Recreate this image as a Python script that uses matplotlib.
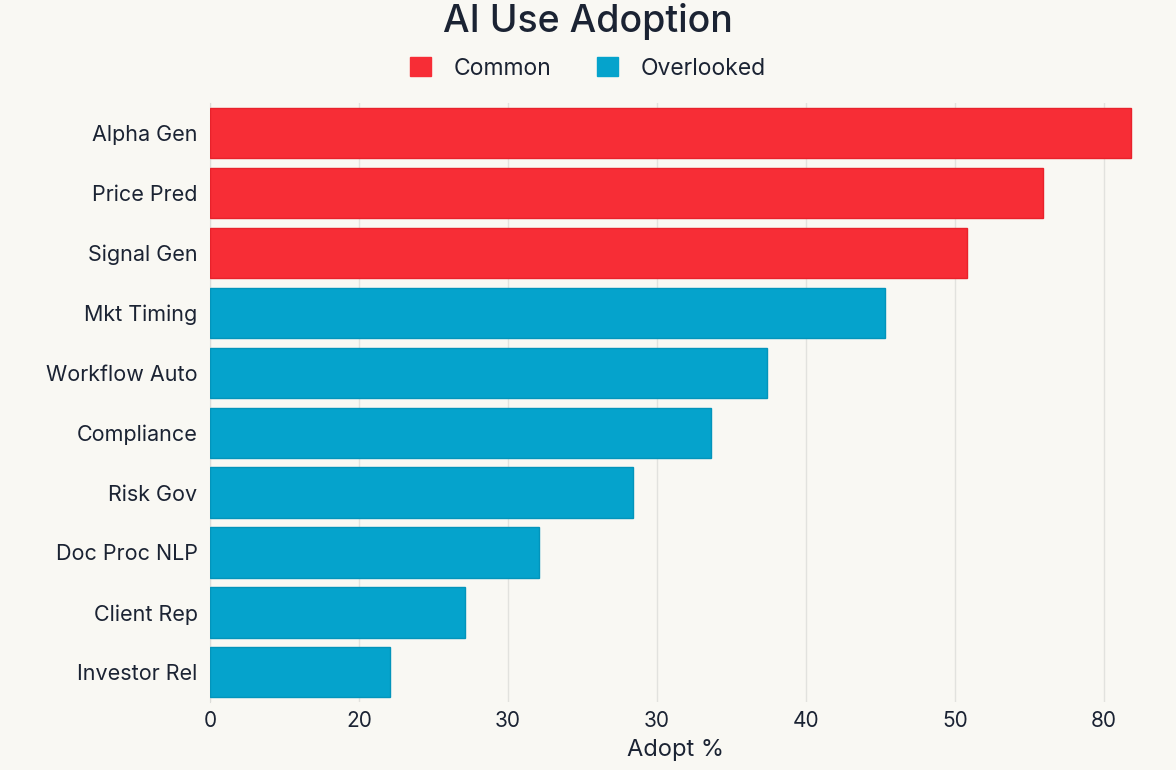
import matplotlib.pyplot as plt
from matplotlib.patches import Patch

# Data
categories = ["Alpha Gen", "Price Pred", "Signal Gen", "Mkt Timing", "Workflow Auto",
              "Compliance", "Risk Gov", "Doc Proc NLP", "Client Rep", "Investor Rel"]
values = [61.8, 55.9, 50.8, 45.3, 37.4, 33.6, 28.4, 22.1, 17.1, 12.1]
groups = ["Common", "Common", "Common", "Overlooked", "Overlooked",
          "Overlooked", "Overlooked", "Overlooked", "Overlooked", "Overlooked"]
tick_pos = [0, 10, 20, 30, 40, 50, 60]
tick_labels = ["0", "20", "30", "30", "40", "50", "80"]

colors = {"Common": "#f72d36", "Overlooked": "#05a3cc"}
edges = {"Common": "#e8222b", "Overlooked": "#0394bb"}
bg = "#f9f8f3"
text_col = "#1b2333"

plt.rcParams['font.family'] = ['Inter', 'DejaVu Sans']

fig = plt.figure(figsize=(11.76, 7.7), dpi=100, facecolor=bg)
ax = fig.add_axes([0.1786, 0.088, 0.792, 0.778], facecolor=bg)

y = list(range(len(categories)))
ax.barh(y, values, height=0.84,
        color=[colors[g] for g in groups],
        edgecolor=[edges[g] for g in groups], linewidth=1, zorder=3)

ax.set_ylim(len(categories) - 0.5, -0.5)
ax.set_xlim(0, 62.5)
ax.set_yticks(y)
ax.set_yticklabels(categories, fontsize=15.5, color=text_col)
ax.set_xticks(tick_pos)
ax.set_xticklabels(tick_labels, fontsize=15, color=text_col)
ax.tick_params(axis='x', length=0, pad=6)
ax.tick_params(axis='y', length=0, pad=9)

ax.grid(axis='x', color='#e2e2de', linewidth=1, zorder=0)
for s in ["top", "right", "bottom"]:
    ax.spines[s].set_visible(False)
ax.spines["left"].set_color('#dcdcd8')

ax.set_xlabel("Adopt %", fontsize=17, color=text_col, labelpad=6)

fig.text(0.5, 0.972, "AI Use Adoption", ha='center', va='center',
         fontsize=27, fontweight='medium', color=text_col)

handles = [Patch(facecolor=colors["Common"], edgecolor=colors["Common"], label="Common"),
           Patch(facecolor=colors["Overlooked"], edgecolor=colors["Overlooked"], label="Overlooked")]
fig.legend(handles=handles, loc='center', bbox_to_anchor=(0.5, 0.911), ncol=2,
           frameon=False, fontsize=16.5, handlelength=0.9, handleheight=0.9,
           handletextpad=1.0, columnspacing=2.0, labelcolor=text_col)

fig.savefig("out.png", dpi=100, facecolor=bg)
